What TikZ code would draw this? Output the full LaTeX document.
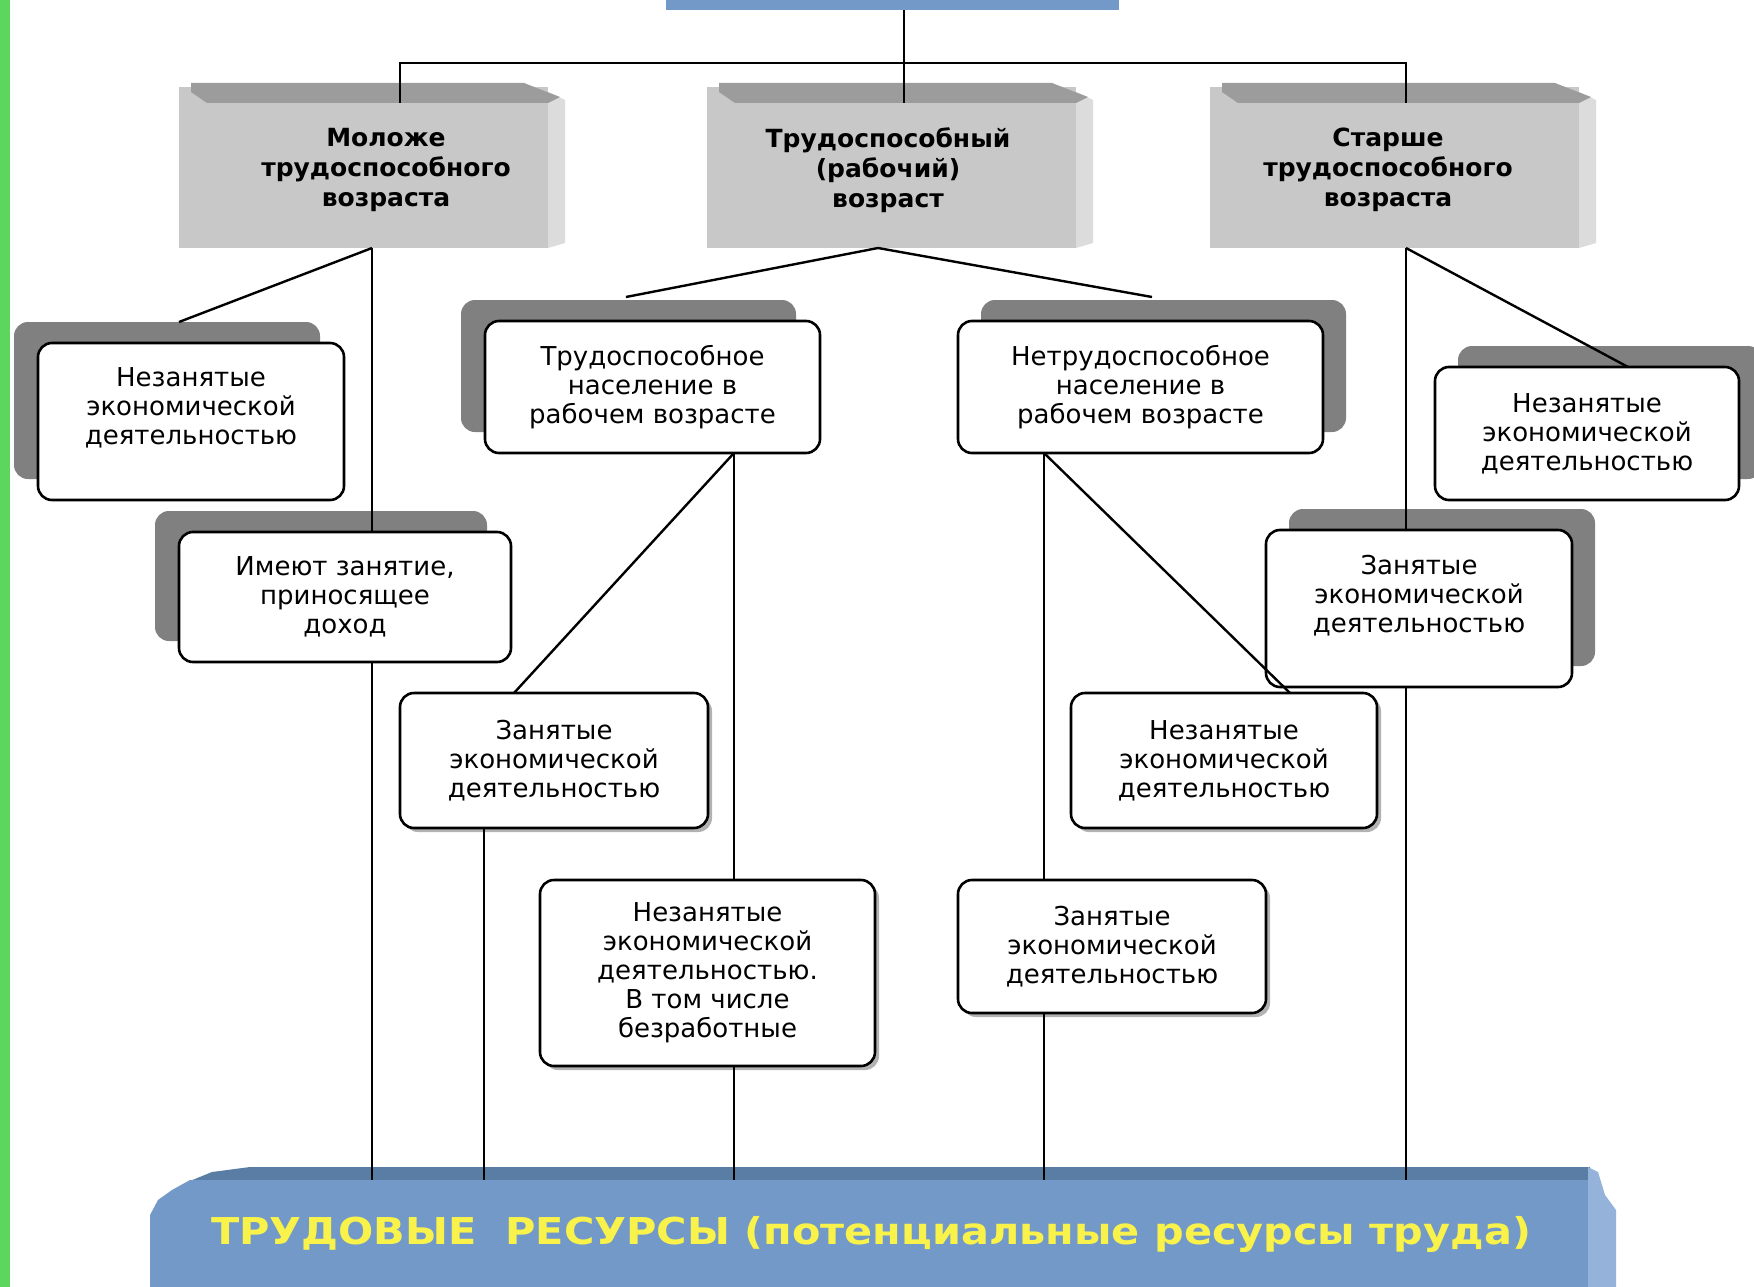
\documentclass[tikz,border=0pt]{standalone}
\usepackage{fontspec}
\setmainfont{DejaVu Sans}
\usepackage{graphicx}
\usetikzlibrary{shadows}
\definecolor{grn}{HTML}{5CD65C}
\definecolor{face}{HTML}{C8C8C8}
\definecolor{bevtop}{HTML}{9C9C9C}
\definecolor{bevside}{HTML}{DCDCDC}
\definecolor{shd}{HTML}{808080}
\definecolor{blu}{HTML}{7399C9}
\definecolor{bludark}{HTML}{5A7DA6}
\definecolor{blulight}{HTML}{95B3DA}
\definecolor{ylw}{HTML}{F8F24A}
\tikzset{
  wbox/.style={draw, line width=2.6pt, rounded corners=14pt, fill=white, align=center,
    inner sep=0pt, font=\fontsize{26}{29}\selectfont},
  dshL/.style={drop shadow={shadow xshift=-24pt, shadow yshift=21pt, fill=shd, opacity=1}},
  dshR/.style={drop shadow={shadow xshift=23pt, shadow yshift=21pt, fill=shd, opacity=1}},
  soft/.style={drop shadow={shadow xshift=4pt, shadow yshift=-4pt, fill=black, opacity=0.3}},
  gtext/.style={align=center, font=\fontsize{25}{30}\selectfont\bfseries, inner sep=0pt},
  conn/.style={line width=2.4pt},
}
\begin{document}
\begin{tikzpicture}[x=1pt,y=-1pt]
\useasboundingbox (0,0) rectangle (1754,1287);
\fill[white] (0,0) rectangle (1754,1287);
\fill[grn] (0,0) rectangle (10,1287);

% top blue box
\node[fill=blu, minimum width=453pt, minimum height=10pt, inner sep=0pt] (top) at (892.5,5) {};

% gray 3D boxes
\foreach \L in {179,707,1210}{
  \fill[face] (\L,87) rectangle (\L+369,248);
  \fill[bevside] (\L+369,92) -- (\L+386,100) -- (\L+386,243) -- (\L+369,248) -- cycle;
  \fill[bevtop] (\L+12,83) -- (\L+345,83) -- (\L+381,97) -- (\L+369,103) -- (\L+28,103) -- (\L+12,92) -- cycle;
}
\node[gtext] (lgt) at (386,170) {Моложе\\трудоспособного\\возраста};
\node[gtext] (mgt) at (888,170) {Трудоспособный\\(рабочий)\\возраст};
\node[gtext] (rgt) at (1388,170) {Старше\\трудоспособного\\возраста};

% bottom band
\fill[bludark] (250,1167) -- (1590,1167) -- (1590,1181) -- (190,1181) -- (212,1172) -- cycle;
\fill[blu] (190,1180) -- (1590,1180) -- (1590,1287) -- (150,1287) -- (150,1215) -- (158,1200) -- (172,1190) -- cycle;
\fill[blulight] (1588,1167) -- (1598,1172) -- (1605,1195) -- (1616,1210) -- (1616,1287) -- (1588,1287) -- cycle;
\node[font=\fontsize{37}{40}\selectfont\bfseries, text=ylw, inner sep=0pt] (res) at (871,1234)
  {\scalebox{1.12}[1]{ТРУДОВЫЕ\ \ РЕСУРСЫ (потенциальные ресурсы труда)}};

% white boxes
\node[wbox, dshL, minimum width=306pt, minimum height=157pt, text depth=30pt] (n1) at (191,421.5)
  {Незанятые\\экономической\\деятельностью};
\node[wbox, dshL, minimum width=332pt, minimum height=130pt] (n2) at (345,597)
  {Имеют занятие,\\приносящее\\доход};
\node[wbox, dshL, minimum width=335pt, minimum height=132pt] (n3) at (652.5,387)
  {Трудоспособное\\население в\\рабочем возрасте};
\node[wbox, dshR, minimum width=365pt, minimum height=132pt] (n4) at (1140.5,387)
  {Нетрудоспособное\\население в\\рабочем возрасте};
\node[wbox, dshR, minimum width=304pt, minimum height=133pt] (n5) at (1587,433.5)
  {Незанятые\\экономической\\деятельностью};
\node[wbox, dshR, minimum width=306pt, minimum height=157pt, text depth=30pt] (n6) at (1419,608.5)
  {Занятые\\экономической\\деятельностью};
\node[wbox, soft, minimum width=308pt, minimum height=135pt] (n7) at (554,760.5)
  {Занятые\\экономической\\деятельностью};
\node[wbox, soft, minimum width=335pt, minimum height=186pt] (n8) at (707.5,973)
  {Незанятые\\экономической\\деятельностью.\\В том числе\\безработные};
\node[wbox, soft, minimum width=306pt, minimum height=135pt] (n9) at (1224,760.5)
  {Незанятые\\экономической\\деятельностью};
\node[wbox, soft, minimum width=308pt, minimum height=133pt] (n10) at (1112,946.5)
  {Занятые\\экономической\\деятельностью};

% connection points
\coordinate (tj) at (904,63);
\coordinate (lgT) at (400,103);
\coordinate (mgT) at (904,103);
\coordinate (rgT) at (1406,103);
\coordinate (lgB) at (372,248);
\coordinate (mgB) at (878,248);
\coordinate (rgB) at (1406,248);
\coordinate (n1s) at (179,322);
\coordinate (n3s) at (626,297);
\coordinate (n4s) at (1152,297);
\coordinate (n5t) at (1628,367);
\coordinate (n3b) at (734,453);
\coordinate (n4b) at (1044,453);
\coordinate (n7t) at (514,693);
\coordinate (n9t) at (1290,693);
\coordinate (n7b) at (484,828);
\coordinate (bandtop) at (0,1180);

% connectors
\draw[conn] (top.south -| tj) -- (mgT);
\draw[conn] (lgT) |- (tj) -| (rgT);
\draw[conn] (lgB) -- (n1s);
\draw[conn] (lgB) -- (lgB |- n2.north);
\draw[conn] (lgB |- n2.south) -- (lgB |- bandtop);
\draw[conn] (mgB) -- (n3s);
\draw[conn] (mgB) -- (n4s);
\draw[conn] (rgB) -- (n5t);
\draw[conn] (rgB) -- (rgB |- n6.north);
\draw[conn] (rgB |- n6.south) -- (rgB |- bandtop);
\draw[conn] (n3b) -- (n7t);
\draw[conn] (n3b) -- (n3b |- n8.north);
\draw[conn] (n3b |- n8.south) -- (n3b |- bandtop);
\draw[conn] (n7b) -- (n7b |- bandtop);
\draw[conn] (n4b) -- (n4b |- n10.north);
\draw[conn] (n4b |- n10.south) -- (n4b |- bandtop);
\draw[conn] (n4b) -- (n9t);
\end{tikzpicture}
\end{document}
